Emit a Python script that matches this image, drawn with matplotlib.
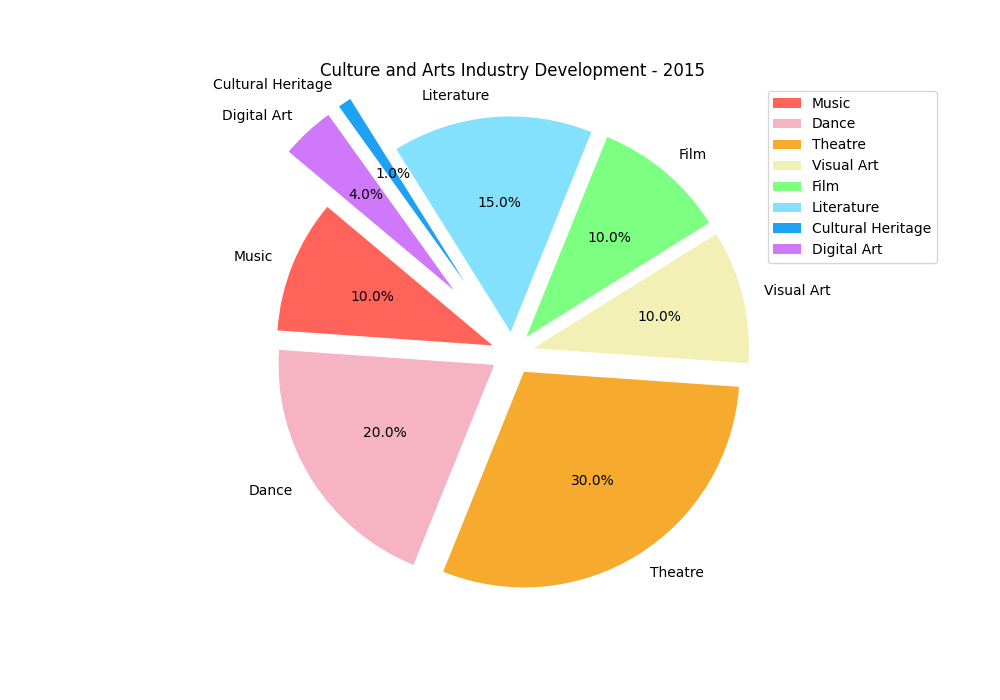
import matplotlib
matplotlib.use("Agg")
import matplotlib.pyplot as plt

labels = ['Music', 'Dance', 'Theatre', 'Visual Art', 'Film', 'Literature', 'Cultural Heritage', 'Digital Art']
sizes = [10, 20, 30, 10, 10, 15, 1, 4]
colors = ['#FF6359', '#F5B3C4', '#F6AB2E', '#F2F0B5', '#7DFF82', '#84E1FD', '#1DA1F2', '#CF79FA']
explode = [0.1, 0.1, 0.1, 0.1, 0.1, 0.1, 0.4, 0.4]

fig = plt.figure(figsize=(10, 7))
ax = fig.add_subplot(111)
ax.pie(sizes, labels=labels, colors=colors, explode=explode,
       autopct='%1.1f%%', startangle=140)
ax.set_title('Culture and Arts Industry Development - 2015')
ax.legend(loc='upper right', bbox_to_anchor=(1.3, 1))

plt.savefig('out.png', dpi=100)
